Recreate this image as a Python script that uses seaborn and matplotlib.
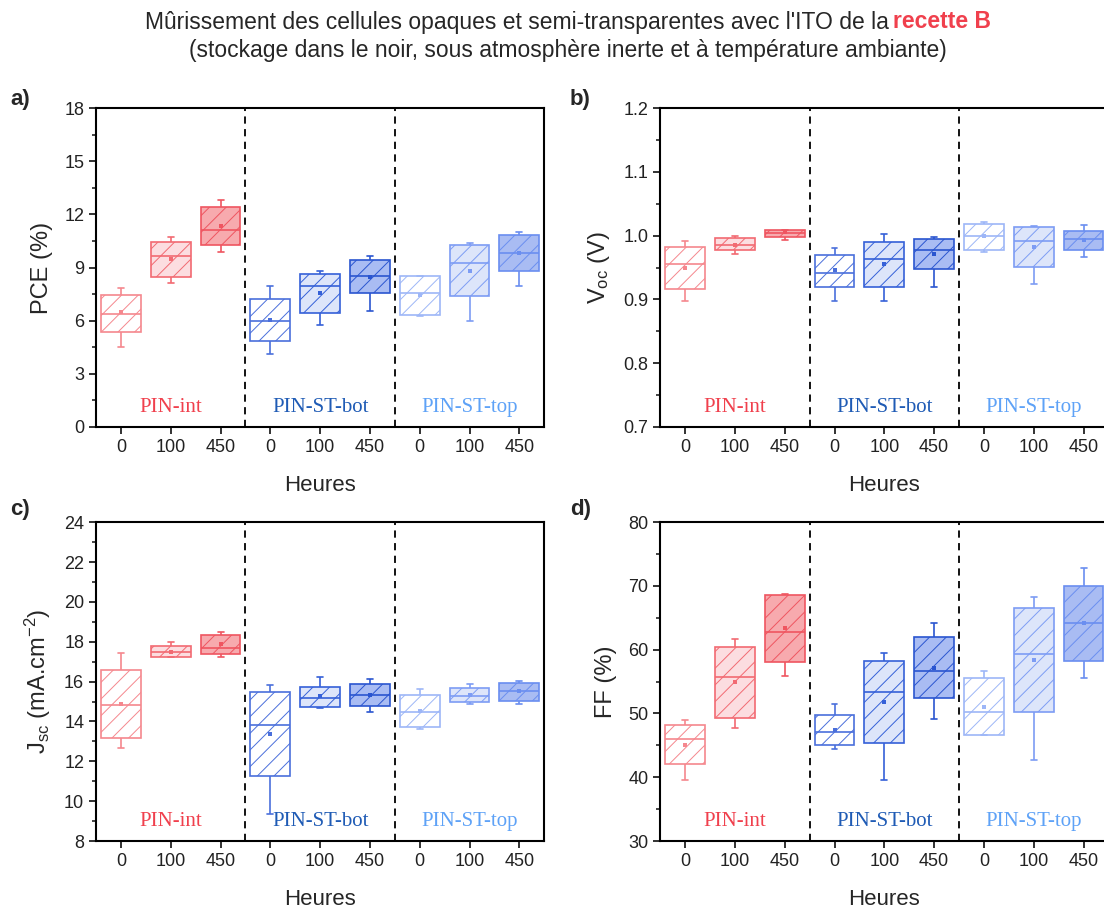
import numpy as np
import pandas as pd
import matplotlib.pyplot as plt
import matplotlib.transforms as mtransforms
import seaborn as sns

# %%
# Catégories
heures = ['0', '100', '450']
groupes = ['PIN-int', 'PIN-ST-bot', 'PIN-ST-top']
boites = [f'{g}|{h}' for g in groupes for h in heures]

# PCE (%) : min, Q1, médiane, Q3, max, moyenne
pce_min = [4.50, 8.12, 9.90, 4.12, 5.76, 6.56, 6.28, 5.96, 7.97]
pce_q1 = [5.34, 8.49, 10.29, 4.84, 6.43, 7.56, 6.34, 7.37, 8.81]
pce_med = [6.38, 9.66, 11.12, 5.96, 7.97, 8.53, 7.54, 9.23, 9.84]
pce_q3 = [7.44, 10.44, 12.41, 7.22, 8.66, 9.45, 8.51, 10.29, 10.86]
pce_max = [7.84, 10.74, 12.79, 7.97, 8.78, 9.66, 8.51, 10.41, 11.01]
pce_moy = [6.47, 9.47, 11.33, 6.06, 7.56, 8.49, 7.44, 8.81, 9.84]

# Voc (V)
voc_min = [0.897, 0.971, 0.994, 0.898, 0.897, 0.920, 0.974, 0.925, 0.967]
voc_q1 = [0.917, 0.977, 0.998, 0.920, 0.919, 0.947, 0.978, 0.951, 0.978]
voc_med = [0.955, 0.986, 1.004, 0.941, 0.964, 0.977, 0.999, 0.992, 0.995]
voc_q3 = [0.982, 0.996, 1.009, 0.970, 0.990, 0.995, 1.019, 1.013, 1.007]
voc_max = [0.991, 1.000, 1.009, 0.980, 1.002, 0.998, 1.021, 1.015, 1.017]
voc_moy = [0.950, 0.986, 1.005, 0.946, 0.955, 0.972, 0.999, 0.982, 0.993]

# Jsc (mA.cm-2)
jsc_min = [12.66, 17.21, 17.25, 9.37, 14.67, 14.45, 13.63, 14.90, 14.89]
jsc_q1 = [13.16, 17.21, 17.37, 11.28, 14.73, 14.79, 13.70, 15.00, 15.04]
jsc_med = [14.82, 17.47, 17.68, 13.80, 15.20, 15.35, 14.47, 15.29, 15.51]
jsc_q3 = [16.59, 17.78, 18.32, 15.49, 15.74, 15.86, 15.35, 15.66, 15.91]
jsc_max = [17.42, 18.00, 18.50, 15.82, 16.24, 16.14, 15.64, 15.86, 16.02]
jsc_moy = [14.90, 17.50, 17.88, 13.36, 15.27, 15.32, 14.53, 15.32, 15.51]

# FF (%)
ff_min = [39.53, 47.70, 55.92, 44.40, 39.63, 49.11, 46.60, 42.77, 55.50]
ff_q1 = [42.04, 49.37, 58.12, 45.08, 45.45, 52.36, 46.60, 50.31, 58.17]
ff_med = [45.97, 55.76, 62.77, 47.02, 53.40, 56.65, 50.31, 59.27, 64.24]
ff_q3 = [48.17, 60.37, 68.64, 49.74, 58.22, 61.99, 55.60, 66.49, 70.05]
ff_max = [48.95, 61.62, 68.69, 51.47, 59.48, 64.24, 56.65, 68.22, 72.83]
ff_moy = [45.08, 54.87, 63.46, 47.38, 51.88, 57.17, 51.05, 58.32, 64.14]

# Couleurs
bords = ['#F5878E', '#F26A72', '#EF5560',
         '#4A6FDB', '#3560D8', '#2A55D0',
         '#9DB6F7', '#7D9CF4', '#6A8EF0']
fonds = ['#FFFFFF', '#FCDDE0', '#F7AAAE',
         '#FFFFFF', '#DDE5FA', '#A9BCF3',
         '#FFFFFF', '#DDE5FA', '#A9BCF3']
couleurs_groupes = ['#F0404D', '#1F5BB5', '#5EA2F7']

# %%
sns.set_style('ticks')
plt.rcParams['font.family'] = ['Liberation Sans', 'DejaVu Sans']
plt.rcParams['mathtext.default'] = 'regular'
plt.rcParams['hatch.linewidth'] = 0.7


def tracer_panneau(ax, mins, q1s, meds, q3s, maxs, moyennes, ylim, pas, ylabel):
    for i, b in enumerate(boites):
        sub = pd.DataFrame({'boite': b,
                            'valeur': [mins[i], q1s[i], meds[i], q3s[i], maxs[i]]})
        n = len(ax.patches)
        sns.boxplot(data=sub, x='boite', y='valeur', order=boites,
                    color=fonds[i], linecolor=bords[i], saturation=1,
                    whis=(0, 100), width=0.8, linewidth=1.2,
                    capwidths=0.12, ax=ax)
        for p in ax.patches[n:]:
            p.set_edgecolor(bords[i])
            p.set_hatch('//')

    sns.stripplot(x=boites, y=moyennes, hue=boites, order=boites,
                  hue_order=boites, palette=dict(zip(boites, bords)),
                  jitter=False, marker='s', size=2.5, linewidth=0,
                  legend=False, ax=ax, zorder=5)

    for xs in [2.5, 5.5]:
        ax.axvline(xs, color='black', ls=(0, (4, 3)), lw=1.3, zorder=1)

    trans = mtransforms.blended_transform_factory(ax.transData, ax.transAxes)
    for k, g in enumerate(groupes):
        ax.text(3 * k + 1, 0.06, g, transform=trans, ha='center', va='center',
                fontsize=15, color=couleurs_groupes[k],
                family=['Liberation Serif', 'DejaVu Serif'])

    ax.set_xlim(-0.5, 8.5)
    ax.set_xticks(range(9))
    ax.set_xticklabels(heures * 3)
    ax.set_ylim(*ylim)
    ax.set_yticks(np.arange(ylim[0], ylim[1] + pas / 2, pas))
    ax.set_yticks(np.arange(ylim[0], ylim[1], pas / 2), minor=True)
    ax.tick_params(axis='both', which='major', labelsize=13, length=5,
                   width=1.3, direction='out', colors='#222222')
    ax.tick_params(axis='y', which='minor', length=3, width=1.2)
    for s in ax.spines.values():
        s.set_visible(True)
        s.set_linewidth(1.5)
        s.set_color('black')
    ax.set_xlabel('Heures', fontsize=16, labelpad=14)
    ax.set_ylabel(ylabel, fontsize=17, labelpad=8)


fig = plt.figure(figsize=(11.04, 9.11), dpi=100)
ax_a = fig.add_axes([0.087, 0.5313, 0.406, 0.350])
ax_b = fig.add_axes([0.598, 0.5313, 0.406, 0.350])
ax_c = fig.add_axes([0.087, 0.0768, 0.406, 0.350])
ax_d = fig.add_axes([0.598, 0.0768, 0.406, 0.350])

tracer_panneau(ax_a, pce_min, pce_q1, pce_med, pce_q3, pce_max, pce_moy,
               (0, 18), 3, 'PCE (%)')
tracer_panneau(ax_b, voc_min, voc_q1, voc_med, voc_q3, voc_max, voc_moy,
               (0.7, 1.2), 0.1, 'V$_{oc}$ (V)')
ax_b.yaxis.set_major_formatter(plt.FormatStrFormatter('%.1f'))
tracer_panneau(ax_c, jsc_min, jsc_q1, jsc_med, jsc_q3, jsc_max, jsc_moy,
               (8, 24), 2, 'J$_{sc}$ (mA.cm$^{-2}$)')
tracer_panneau(ax_d, ff_min, ff_q1, ff_med, ff_q3, ff_max, ff_moy,
               (30, 80), 10, 'FF (%)')

for lab, (xp, yp) in zip(['a)', 'b)', 'c)', 'd)'],
                         [(10, 100), (570, 100), (10, 510), (570, 510)]):
    fig.text(xp / 1104, 1 - yp / 911, lab, fontsize=16, weight='bold',
             va='center', ha='left')

# Titre en deux lignes, "recette B" en gras rouge
taille_titre = 16.5
centre = 568
t1 = fig.text(0, 1 - 22 / 911,
              "Mûrissement des cellules opaques et semi-transparentes avec l'ITO de la",
              fontsize=taille_titre, va='center', ha='left')
t2 = fig.text(0, 1 - 22 / 911, 'recette B', fontsize=taille_titre,
              weight='bold', color='#F0404D', va='center', ha='left')
rend = fig.canvas.get_renderer()
w1 = t1.get_window_extent(rend).width
w2 = t2.get_window_extent(rend).width
ecart = 5
x0 = centre - (w1 + ecart + w2) / 2
t1.set_x(x0 / 1104)
t2.set_x((x0 + w1 + ecart) / 1104)
fig.text(centre / 1104, 1 - 50 / 911,
         "(stockage dans le noir, sous atmosphère inerte et à température ambiante)",
         fontsize=taille_titre, va='center', ha='center')

fig.savefig('out.png', dpi=100)
